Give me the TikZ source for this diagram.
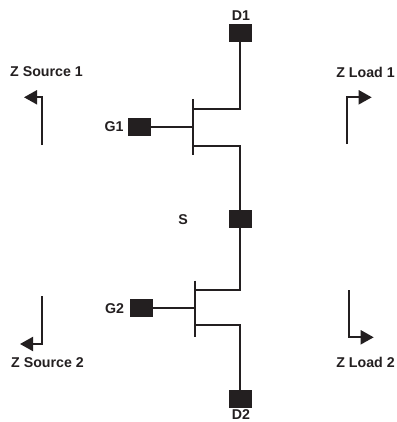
\documentclass[tikz,border=0pt]{standalone}
\usepackage{fontspec}
\setmainfont{Liberation Sans}
\usetikzlibrary{arrows.meta}
\definecolor{ink}{HTML}{231F20}
\tikzset{
  pad/.style={draw=none,fill=ink,minimum width=23pt,minimum height=18pt,inner sep=0pt,outer sep=0pt},
  lab/.style={text=ink,font=\fontsize{14.2}{16}\selectfont\bfseries,inner sep=0pt},
  wire/.style={draw=ink,line width=2pt,line join=miter},
  bar/.style={draw=ink,line width=2.4pt},
  zarrow/.style={draw=ink,line width=2pt,line join=miter,-{Triangle[length=13pt,width=14pt,fill=ink]}}
}
\begin{document}
\begin{tikzpicture}[x=1pt,y=-1pt]
\useasboundingbox (0,0) rectangle (396,422);
% pads
\node[pad] (d1) at (240,33) {};
\node[pad] (g1) at (139.7,127) {};
\node[pad] (s) at (240,219) {};
\node[pad] (g2) at (141.7,308) {};
\node[pad] (d2) at (240,399) {};
% labels
\node[lab] (ld1) at (241,16) {D1};
\node[lab] (lg1) at (114,127) {G1};
\node[lab] (ls) at (183,220) {S};
\node[lab] (lg2) at (114.5,309) {G2};
\node[lab] (ld2) at (241,415) {D2};
\node[lab] (zs1) at (46.5,72) {Z Source 1};
\node[lab] (zs2) at (47.5,362.5) {Z Source 2};
\node[lab] (zl1) at (365.5,72) {Z Load 1};
\node[lab] (zl2) at (365.5,362.5) {Z Load 2};
% transistor 1
\coordinate (b1t) at (192.7,99);
\coordinate (b1b) at (192.7,154.7);
\coordinate (b1d) at (192.7,109);
\coordinate (b1s) at (192.7,146);
\coordinate (b1g) at (192.7,127);
\draw[bar] (b1t) -- (b1b);
\draw[wire] (g1.east) -- (b1g);
\draw[wire] (d1.south) |- (b1d);
\draw[wire] (s.north) |- (b1s);
% transistor 2
\coordinate (b2t) at (194.7,280.7);
\coordinate (b2b) at (194.7,337.3);
\coordinate (b2d) at (194.7,290.3);
\coordinate (b2s) at (194.7,325.3);
\coordinate (b2g) at (194.7,308);
\draw[bar] (b2t) -- (b2b);
\draw[wire] (g2.east) -- (b2g);
\draw[wire] (s.south) |- (b2d);
\draw[wire] (d2.north) |- (b2s);
% impedance arrows
\coordinate (a1s) at (42.3,145);
\coordinate (a1e) at (24,97.3);
\coordinate (a2s) at (42.3,296);
\coordinate (a2e) at (20,344);
\coordinate (a3s) at (347,144);
\coordinate (a3e) at (371.7,97.3);
\coordinate (a4s) at (348.7,290);
\coordinate (a4e) at (373.7,337.3);
\draw[zarrow] (a1s) |- (a1e);
\draw[zarrow] (a2s) |- (a2e);
\draw[zarrow] (a3s) |- (a3e);
\draw[zarrow] (a4s) |- (a4e);
\end{tikzpicture}
\end{document}
